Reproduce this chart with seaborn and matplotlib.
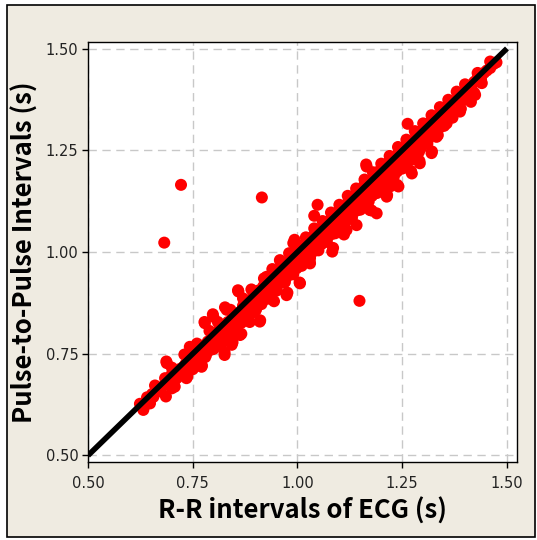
import matplotlib
matplotlib.use("Agg")
import matplotlib.pyplot as plt
import seaborn as sns
import pandas as pd
from matplotlib.patches import Rectangle

# R-R intervals (x) and pulse-to-pulse intervals (y)
rr = [0.640, 0.648, 0.655, 0.662, 0.670, 0.676, 0.684, 0.690, 0.695, 0.700,
      0.708, 0.712, 0.718, 0.722, 0.728, 0.733, 0.738, 0.742, 0.746, 0.750,
      0.755, 0.758, 0.762, 0.766, 0.770, 0.774, 0.778, 0.782, 0.786, 0.790,
      0.794, 0.798, 0.802, 0.806, 0.810, 0.814, 0.818, 0.822, 0.826, 0.830,
      0.834, 0.838, 0.842, 0.846, 0.850, 0.854, 0.858, 0.862, 0.866, 0.870,
      0.874, 0.878, 0.882, 0.886, 0.890, 0.894, 0.898, 0.902, 0.906, 0.910,
      0.914, 0.918, 0.922, 0.926, 0.930, 0.934, 0.938, 0.942, 0.946, 0.950,
      0.954, 0.958, 0.962, 0.966, 0.970, 0.974, 0.978, 0.982, 0.986, 0.990,
      0.994, 0.998, 1.002, 1.006, 1.010, 1.014, 1.018, 1.022, 1.026, 1.030,
      1.034, 1.038, 1.042, 1.046, 1.050, 1.054, 1.058, 1.062, 1.066, 1.070,
      1.074, 1.078, 1.082, 1.086, 1.090, 1.094, 1.098, 1.102, 1.106, 1.110,
      1.114, 1.118, 1.122, 1.126, 1.130, 1.134, 1.138, 1.142, 1.146, 1.150,
      1.154, 1.158, 1.162, 1.166, 1.170, 1.174, 1.178, 1.182, 1.186, 1.190,
      1.194, 1.198, 1.202, 1.206, 1.210, 1.214, 1.218, 1.222, 1.226, 1.230,
      1.234, 1.238, 1.242, 1.246, 1.250, 1.255, 1.260, 1.265, 1.270, 1.275,
      1.280, 1.285, 1.290, 1.295, 1.300, 1.305, 1.310, 1.315, 1.320, 1.325,
      1.330, 1.335, 1.340, 1.345, 1.350, 1.355, 1.360, 1.365, 1.370, 1.378,
      1.385, 1.392, 1.400, 1.408, 1.415, 1.422, 1.430, 1.438, 1.445, 1.452,
      1.460, 1.468, 1.475,
      1.263, 1.414, 1.422, 1.335, 1.321, 1.291, 1.271, 1.238, 1.164, 1.177,
      1.214, 1.048, 1.040, 1.083, 1.111, 0.993, 1.005, 1.029, 0.976, 0.944,
      0.858, 0.911, 0.886, 0.827, 0.778, 0.798, 0.866, 0.845, 0.826, 0.772,
      0.737, 0.687, 0.705, 0.686, 0.633, 0.641, 0.653, 0.624,
      0.660, 0.700, 0.730, 0.760, 0.790, 0.810, 0.840, 0.870, 0.890, 0.920,
      0.940, 0.960, 0.980, 1.000, 1.020, 1.040, 1.060, 1.080, 1.100, 1.120,
      1.140, 1.160, 1.180, 1.200, 1.220, 1.240, 1.260, 1.280, 1.300, 1.320,
      1.340, 1.360, 1.380, 1.400, 1.430, 1.460,
      0.700, 0.750, 0.780, 0.800, 0.820, 0.850, 0.880, 0.900, 0.930, 0.950,
      0.970, 0.990, 1.010, 1.030, 1.050, 1.070, 1.090, 1.110, 1.130, 1.150,
      1.170, 1.190, 1.210, 1.230, 1.250, 1.270, 1.290, 1.310, 1.330, 1.350,
      1.370, 1.390, 1.410, 1.440,
      1.332, 1.320, 1.292, 1.273, 1.241, 1.213, 1.189, 1.165, 1.085, 1.117,
      1.141, 1.173, 1.221, 1.356, 1.388, 1.424, 0.688, 0.632, 0.735, 0.707,
      0.771, 0.826, 0.843, 0.863, 0.910, 0.779, 0.799, 0.831, 0.859, 0.974,
      1.006, 1.030, 0.990, 0.958, 0.926, 0.895, 0.743, 0.720, 0.656,
      0.722, 0.915, 0.682, 1.148]
ppi = [0.636, 0.628, 0.650, 0.655, 0.662, 0.668, 0.690, 0.682, 0.676, 0.700,
       0.703, 0.690, 0.712, 0.705, 0.718, 0.725, 0.730, 0.712, 0.742, 0.738,
       0.748, 0.730, 0.758, 0.752, 0.740, 0.770, 0.762, 0.748, 0.780, 0.776,
       0.760, 0.790, 0.785, 0.770, 0.805, 0.798, 0.782, 0.815, 0.808, 0.790,
       0.828, 0.820, 0.803, 0.842, 0.834, 0.815, 0.850, 0.845, 0.826, 0.868,
       0.858, 0.838, 0.878, 0.870, 0.850, 0.890, 0.882, 0.862, 0.905, 0.895,
       0.872, 0.915, 0.906, 0.885, 0.930, 0.920, 0.898, 0.945, 0.935, 0.910,
       0.955, 0.946, 0.925, 0.962, 0.958, 0.938, 0.975, 0.968, 0.948, 0.988,
       0.980, 0.960, 1.002, 0.995, 0.972, 1.015, 1.005, 0.985, 1.028, 1.018,
       0.998, 1.040, 1.030, 1.008, 1.052, 1.042, 1.020, 1.062, 1.055, 1.032,
       1.075, 1.066, 1.044, 1.088, 1.078, 1.055, 1.100, 1.090, 1.066, 1.112,
       1.102, 1.078, 1.125, 1.114, 1.090, 1.138, 1.126, 1.102, 1.150, 1.138,
       1.115, 1.162, 1.150, 1.126, 1.174, 1.162, 1.138, 1.186, 1.174, 1.150,
       1.198, 1.186, 1.162, 1.210, 1.198, 1.174, 1.222, 1.210, 1.186, 1.234,
       1.222, 1.198, 1.246, 1.234, 1.210, 1.258, 1.246, 1.225, 1.272, 1.260,
       1.240, 1.287, 1.275, 1.256, 1.302, 1.290, 1.272, 1.318, 1.305, 1.290,
       1.332, 1.320, 1.306, 1.348, 1.335, 1.322, 1.362, 1.352, 1.340, 1.372,
       1.378, 1.372, 1.396, 1.400, 1.405, 1.418, 1.428, 1.425, 1.440, 1.446,
       1.452, 1.462, 1.466,
       1.315, 1.369, 1.391, 1.287, 1.247, 1.224, 1.199, 1.165, 1.215, 1.102,
       1.140, 1.116, 1.089, 1.001, 1.043, 1.030, 0.925, 0.976, 0.900, 0.879,
       0.906, 0.832, 0.828, 0.864, 0.828, 0.847, 0.799, 0.778, 0.753, 0.721,
       0.694, 0.731, 0.673, 0.645, 0.618, 0.643, 0.651, 0.627,
       0.672, 0.716, 0.748, 0.775, 0.806, 0.828, 0.858, 0.886, 0.908, 0.935,
       0.958, 0.976, 0.997, 1.018, 1.036, 1.058, 1.076, 1.097, 1.116, 1.138,
       1.156, 1.178, 1.196, 1.217, 1.236, 1.258, 1.276, 1.297, 1.316, 1.336,
       1.356, 1.374, 1.394, 1.412, 1.440, 1.468,
       0.665, 0.712, 0.742, 0.762, 0.778, 0.806, 0.835, 0.856, 0.886, 0.905,
       0.926, 0.945, 0.966, 0.985, 1.004, 1.025, 1.046, 1.066, 1.084, 1.104,
       1.124, 1.145, 1.165, 1.185, 1.205, 1.226, 1.246, 1.266, 1.288, 1.310,
       1.330, 1.352, 1.375, 1.415,
       1.283, 1.243, 1.218, 1.193, 1.161, 1.136, 1.095, 1.210, 1.010, 1.054,
       1.066, 1.103, 1.161, 1.316, 1.345, 1.386, 0.727, 0.612, 0.690, 0.669,
       0.718, 0.747, 0.772, 0.796, 0.829, 0.825, 0.841, 0.858, 0.903, 0.894,
       0.923, 0.972, 1.022, 0.980, 0.939, 0.890, 0.767, 0.710, 0.644,
       1.165, 1.134, 1.023, 0.880]

identity_x = [0.5, 1.5]
identity_y = [0.5, 1.5]

x_ticks = [0.50, 0.75, 1.00, 1.25, 1.50]
y_ticks = [0.50, 0.75, 1.00, 1.25, 1.50]

sns.set_theme(style="white")
plt.rcParams['font.family'] = ['Noto Sans CJK JP', 'DejaVu Sans']

bg = "#EFEBE1"
fig = plt.figure(figsize=(5.37, 5.40), dpi=100, facecolor="white")
fig.patches.append(Rectangle((7/537, 1 - 537/540), (535 - 7)/537, (537 - 5)/540,
                             transform=fig.transFigure, facecolor=bg,
                             edgecolor="black", linewidth=1.2, zorder=-1))
ax = fig.add_axes([88/537, 1 - 462/540, (517 - 88)/537, (462 - 42)/540])
ax.set_facecolor("white")

df = pd.DataFrame({"rr": rr, "ppi": ppi})
sns.scatterplot(data=df, x="rr", y="ppi", ax=ax, color="#FF0000",
                s=75, linewidth=0, edgecolor="none", zorder=3)
line_df = pd.DataFrame({"x": identity_x, "y": identity_y})
sns.lineplot(data=line_df, x="x", y="y", ax=ax, color="black",
             linewidth=4.0, zorder=4, solid_capstyle="butt")

ax.set_xlim(0.5, 1.524)
ax.set_ylim(0.484, 1.516)
ax.set_xticks(x_ticks)
ax.set_yticks(y_ticks)
ax.set_xticklabels([f"{v:.2f}" for v in x_ticks], family="DejaVu Sans")
ax.set_yticklabels([f"{v:.2f}" for v in y_ticks], family="DejaVu Sans")
ax.grid(True, color="#C8C8C8", linestyle=(0, (6, 4)), linewidth=1.0, zorder=0)
ax.set_axisbelow(True)
for sp in ax.spines.values():
    sp.set_color("black")
    sp.set_linewidth(1.0)
ax.tick_params(axis="both", direction="out", length=4, width=1, color="black",
               labelsize=10.5, labelcolor="#222222", bottom=True, left=True)
ax.tick_params(axis="x", pad=6)
ax.tick_params(axis="y", pad=3)
ax.set_xlabel("R-R intervals of ECG (s)", fontsize=18.5, fontweight="bold",
              color="black", labelpad=5)
ax.set_ylabel("Pulse-to-Pulse Intervals (s)", fontsize=18.5, fontweight="bold",
              color="black", labelpad=5)

fig.savefig("out.png", dpi=100, facecolor=fig.get_facecolor())
